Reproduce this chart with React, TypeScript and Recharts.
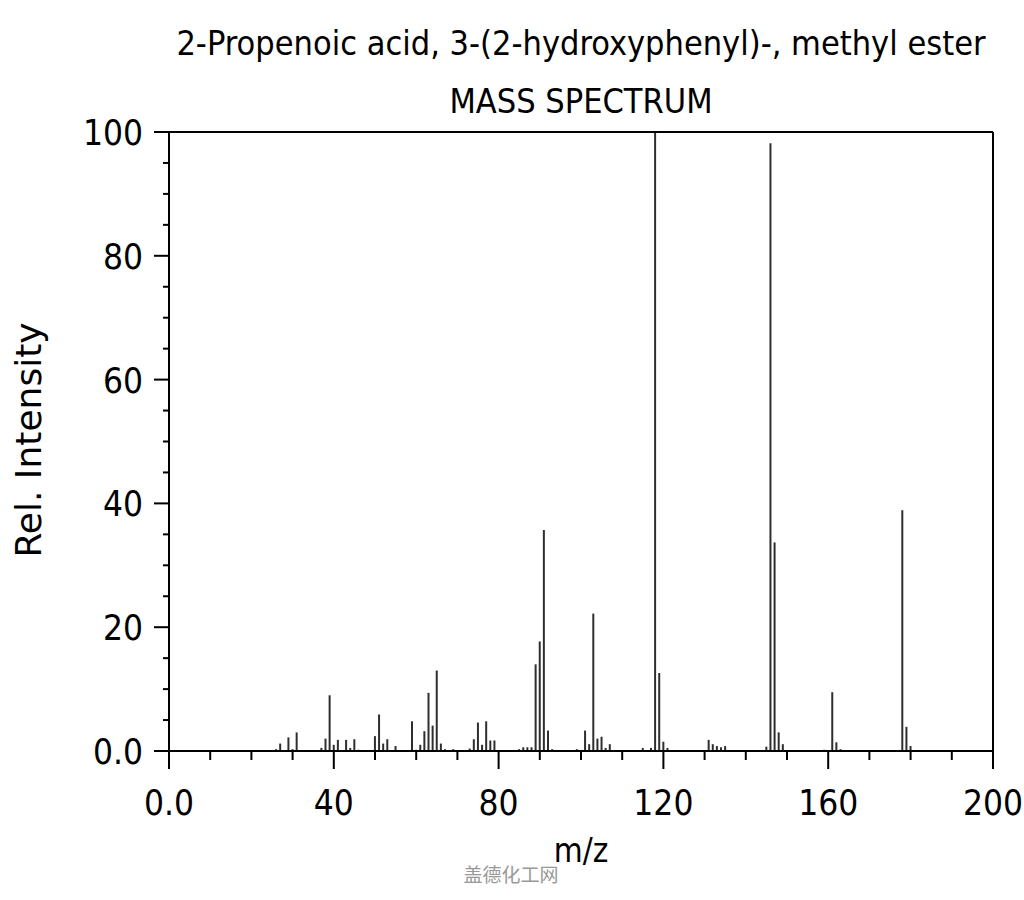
import React from "react";
import { BarChart, Bar, XAxis, YAxis, ReferenceLine } from "recharts";

const mzValues = [
  26, 27, 29, 30, 31, 37, 38, 39, 40, 41, 43, 44, 45, 46, 50, 51, 52, 53, 55, 59, 60, 61, 62, 63, 64, 65, 66, 67, 69,
  73, 74, 75, 76, 77, 78, 79, 85, 86, 87, 88, 89, 90, 91, 92, 93, 99, 101, 102, 103, 104, 105, 106, 107, 115, 117,
  118, 119, 120, 121, 131, 132, 133, 134, 135, 145, 146, 147, 148, 149, 159, 161, 162, 163, 178, 179, 180,
];
const intensities = [
  0.3, 1.2, 2.2, 0.3, 3.0, 0.5, 2.0, 9.0, 1.0, 1.8, 1.8, 0.5, 1.9, 0.2, 2.4, 5.9, 1.2, 1.9, 0.8, 4.8, 0.2, 1.0, 3.2, 9.4,
  4.1, 13.0, 1.2, 0.3, 0.3, 0.4, 1.9, 4.6, 1.0, 4.8, 1.7, 1.7, 0.3, 0.6, 0.6, 0.6, 14.0, 17.7, 35.7, 3.3, 0.3, 0.3,
  3.3, 1.1, 22.2, 2.0, 2.3, 0.5, 1.1, 0.5, 0.5, 100, 12.6, 1.5, 0.5, 1.8, 1.1, 0.8, 0.6, 0.8, 0.7, 98.2, 33.7, 3.0,
  1.1, 0.2, 9.5, 1.4, 0.3, 38.9, 3.9, 0.8,
];
const xTicks = [0, 10, 20, 30, 40, 50, 60, 70, 80, 90, 100, 110, 120, 130, 140, 150, 160, 170, 180, 190, 200];
const yTicks = [0, 5, 10, 15, 20, 25, 30, 35, 40, 45, 50, 55, 60, 65, 70, 75, 80, 85, 90, 95, 100];

const data = mzValues.map((mz, i) => ({ mz, intensity: intensities[i] }));

const FONT = "'DejaVu Sans Condensed', 'DejaVu Sans', sans-serif";

const fmt = (v: number) => (v === 0 ? "0.0" : String(v));

const XTick = (props: any) => {
  const { x, y, payload } = props;
  const major = payload.value % 40 === 0;
  return (
    <g>
      <line x1={x} x2={x} y1={y} y2={y + (major ? 18 : 9)} stroke="#000" strokeWidth={2} />
      {major && (
        <text x={x} y={y + 64} textAnchor="middle" fontSize={35} fontFamily={FONT} fill="#000">
          {fmt(payload.value)}
        </text>
      )}
    </g>
  );
};

const YTick = (props: any) => {
  const { x, y, payload } = props;
  const major = payload.value % 20 === 0;
  return (
    <g>
      <line x1={x} x2={x - (major ? 15 : 6)} y1={y} y2={y} stroke="#000" strokeWidth={2} />
      {major && (
        <text x={x - 26} y={y + 13} textAnchor="end" fontSize={35} fontFamily={FONT} fill="#000">
          {fmt(payload.value)}
        </text>
      )}
    </g>
  );
};

export default function App() {
  return (
    <div style={{ position: "absolute", left: 0, top: 0, width: 1024, height: 900, background: "#fff" }}>
      <BarChart width={1024} height={900} data={data} margin={{ top: 132, right: 31, left: 89, bottom: 69 }}>
        <XAxis
          type="number"
          dataKey="mz"
          domain={[0, 200]}
          ticks={xTicks}
          interval={0}
          tickSize={0}
          tickMargin={0}
          tick={<XTick />}
          axisLine={{ stroke: "#000", strokeWidth: 2 }}
          height={80}
          allowDataOverflow
        />
        <YAxis
          type="number"
          domain={[0, 100]}
          ticks={yTicks}
          interval={0}
          tickSize={0}
          tickMargin={0}
          tick={<YTick />}
          axisLine={{ stroke: "#000", strokeWidth: 2 }}
          width={80}
          allowDataOverflow
        />
        <ReferenceLine y={100} stroke="#000" strokeWidth={2} ifOverflow="visible" />
        <ReferenceLine x={200} stroke="#000" strokeWidth={2} ifOverflow="visible" />
        <Bar dataKey="intensity" fill="#2e2e2e" barSize={2} isAnimationActive={false} />
      </BarChart>
      <svg
        width={1024}
        height={900}
        style={{ position: "absolute", left: 0, top: 0, pointerEvents: "none" }}
      >
        <text x={581} y={55} textAnchor="middle" fontSize={34} fontFamily={FONT} fill="#000">
          2-Propenoic acid, 3-(2-hydroxyphenyl)-, methyl ester
        </text>
        <text x={581} y={113} textAnchor="middle" fontSize={34} fontFamily={FONT} fill="#000">
          MASS SPECTRUM
        </text>
        <text x={581} y={862} textAnchor="middle" fontSize={33} fontFamily={FONT} fill="#000">
          m/z
        </text>
        <text
          x={41}
          y={440}
          textAnchor="middle"
          fontSize={36}
          fontFamily="'DejaVu Sans', sans-serif"
          fill="#000"
          transform="rotate(-90 41 440)"
        >
          Rel. Intensity
        </text>
        <text x={511} y={882} textAnchor="middle" fontSize={19} fontFamily="'Noto Sans CJK SC', sans-serif" fill="#999">
          盖德化工网
        </text>
      </svg>
    </div>
  );
}
